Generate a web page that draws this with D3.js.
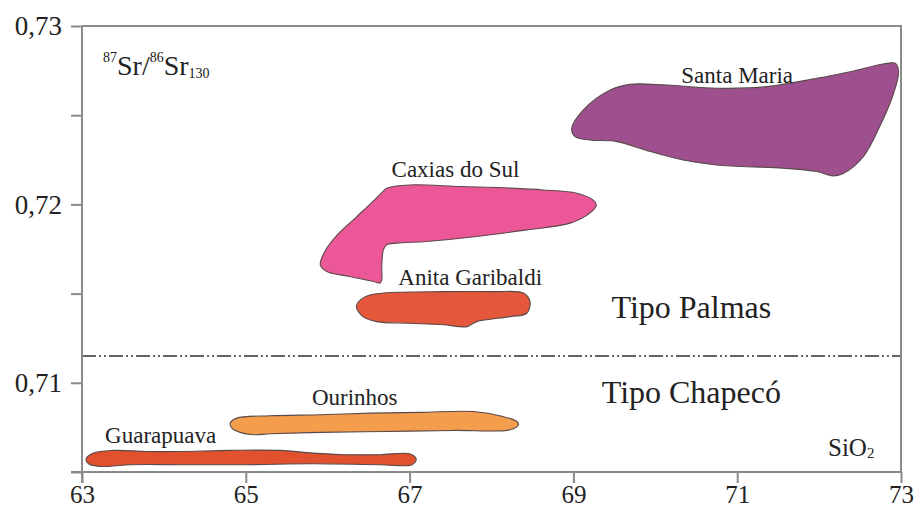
<!DOCTYPE html>
<html>
<head>
<meta charset="utf-8">
<script src="https://cdn.jsdelivr.net/npm/d3@7"></script>
<style>
  html, body { margin: 0; padding: 0; background: #fff; }
  svg { display: block; }
  text { font-family: "Liberation Serif", "Times New Roman", serif; fill: #222; }
</style>
</head>
<body>
<svg id="chart" width="919" height="508"></svg>
<script>
// SiO2 (wt%) vs 87Sr/86Sr(130) fields for the Palmas and Chapecó type volcanics
const xTicks = [63, 65, 67, 69, 71, 73];
const yTicks = [0.705, 0.71, 0.715, 0.72, 0.725, 0.73];
const yTickLabels = [0.71, 0.72, 0.73];
const divider = 0.7115;

// field outlines as [SiO2, 87Sr/86Sr] pairs
const guarapuava = [
  [63.05, 0.70573], [63.14, 0.70606], [63.38, 0.70621], [63.79, 0.70615], [64.20, 0.70615],
  [64.81, 0.70621], [65.42, 0.70621], [65.82, 0.70606], [66.23, 0.70597], [66.64, 0.70597],
  [67.00, 0.70602], [67.08, 0.70573], [67.03, 0.70541], [66.64, 0.70541], [65.82, 0.70546],
  [65.01, 0.70541], [64.20, 0.70541], [63.59, 0.70541], [63.22, 0.70531], [63.08, 0.70546]
];
const ourinhos = [
  [64.81, 0.70774], [64.89, 0.70802], [65.30, 0.70815], [65.91, 0.70821], [66.52, 0.70830],
  [67.13, 0.70834], [67.78, 0.70839], [68.14, 0.70811], [68.31, 0.70783], [68.33, 0.70765],
  [68.23, 0.70737], [67.53, 0.70733], [66.72, 0.70727], [65.91, 0.70722], [65.30, 0.70714],
  [65.09, 0.70709], [64.93, 0.70722], [64.83, 0.70746]
];
const anitaGaribaldi = [
  [66.35, 0.71431], [66.46, 0.71483], [66.68, 0.71503], [67.41, 0.71511], [68.02, 0.71511],
  [68.39, 0.71503], [68.47, 0.71455], [68.43, 0.71390], [68.23, 0.71371], [67.82, 0.71343],
  [67.70, 0.71315], [67.41, 0.71325], [67.00, 0.71334], [66.60, 0.71343], [66.43, 0.71371]
];
const caxiasDoSul = [
  [66.72, 0.72091], [67.00, 0.72109], [67.62, 0.72100], [68.23, 0.72091], [68.63, 0.72081],
  [69.04, 0.72063], [69.24, 0.72025], [69.28, 0.71997], [69.20, 0.71951], [68.96, 0.71895],
  [68.43, 0.71857], [67.82, 0.71820], [67.21, 0.71792], [66.84, 0.71783], [66.72, 0.71773],
  [66.68, 0.71745], [66.66, 0.71652], [66.66, 0.71577], [66.64, 0.71559], [66.56, 0.71568],
  [66.27, 0.71596], [65.99, 0.71624], [65.91, 0.71661], [65.97, 0.71740], [66.12, 0.71830],
  [66.34, 0.71925], [66.55, 0.72015], [66.68, 0.72074]
];
const santaMaria = [
  [68.98, 0.72427], [69.12, 0.72529], [69.45, 0.72641], [69.69, 0.72673], [70.14, 0.72669],
  [70.75, 0.72651], [71.36, 0.72660], [71.97, 0.72707], [72.38, 0.72744], [72.78, 0.72787],
  [72.93, 0.72791], [72.97, 0.72744], [72.91, 0.72623], [72.74, 0.72436], [72.54, 0.72268],
  [72.30, 0.72175], [72.17, 0.72160], [71.97, 0.72184], [71.56, 0.72203], [70.75, 0.72221],
  [70.34, 0.72249], [69.94, 0.72296], [69.53, 0.72352], [69.20, 0.72361], [69.02, 0.72380]
];

const fields = [
  { name: "Guarapuava",      pts: guarapuava,     fill: "#e2512d", label: [63.96, 0.70664] },
  { name: "Ourinhos",        pts: ourinhos,       fill: "#f49d4d", label: [66.33, 0.70877] },
  { name: "Anita Garibaldi", pts: anitaGaribaldi, fill: "#e5573a", label: [67.74, 0.71549] },
  { name: "Caxias do Sul",   pts: caxiasDoSul,    fill: "#eb5797", label: [67.56, 0.72156] },
  { name: "Santa Maria",     pts: santaMaria,     fill: "#9d4f8e", label: [71.00, 0.72681] }
];

const groups = [
  { name: "Tipo Palmas",  at: [70.44, 0.71364] },
  { name: "Tipo Chapecó", at: [70.44, 0.70888] }
];

const svg = d3.select("#chart");
const margin = { left: 82, right: 18, top: 26, bottom: 36 };
const W = 919, H = 508;

const x = d3.scaleLinear().domain([63, 73]).range([margin.left, W - margin.right]);
const y = d3.scaleLinear().domain([0.705, 0.73]).range([H - margin.bottom, margin.top]);

const locale = d3.formatLocale({ decimal: ",", thousands: ".", grouping: [3], currency: ["", ""] });
const fmt = locale.format(".2f");

const axisColor = "#8a8a8a";

// fields
const line = d3.line()
  .x(d => x(d[0]))
  .y(d => y(d[1]))
  .curve(d3.curveCatmullRomClosed.alpha(0.5));

svg.append("g").selectAll("path")
  .data(fields)
  .join("path")
  .attr("d", d => line(d.pts))
  .attr("fill", d => d.fill)
  .attr("stroke", "#5a4a4a")
  .attr("stroke-width", 1.1);

// divider between the two magma types
svg.append("line")
  .attr("x1", x(63)).attr("x2", x(73))
  .attr("y1", y(divider)).attr("y2", y(divider))
  .attr("stroke", "#333")
  .attr("stroke-width", 1.6)
  .attr("stroke-dasharray", "14,3,2,3,2,3");

// frame: top and right edges
svg.append("path")
  .attr("d", `M${x(63)},${y(0.73)}H${x(73)}V${y(0.705)}`)
  .attr("fill", "none")
  .attr("stroke", axisColor)
  .attr("stroke-width", 2);

// axes
const xAxis = svg.append("g")
  .attr("transform", `translate(0,${y(0.705)})`)
  .call(d3.axisBottom(x).tickValues(xTicks).tickSize(11).tickSizeOuter(0).tickPadding(2).tickFormat(d3.format("d")));
const yAxis = svg.append("g")
  .attr("transform", `translate(${x(63)},0)`)
  .call(d3.axisLeft(y).tickValues(yTicks).tickSize(11).tickSizeOuter(0).tickPadding(9)
    .tickFormat(d => yTickLabels.some(v => Math.abs(v - d) < 1e-9) ? fmt(d) : ""));

[xAxis, yAxis].forEach(g => {
  g.select(".domain").attr("stroke", axisColor).attr("stroke-width", 2);
  g.selectAll(".tick line").attr("stroke", axisColor).attr("stroke-width", 2);
  g.selectAll(".tick text")
    .attr("fill", "#222")
    .style("font-family", '"Liberation Serif", serif')
    .style("font-size", "27px");
});
xAxis.selectAll(".tick text").style("font-size", "25px").attr("dy", "0.7em");
// extend the axis lines past the origin like the tick marks
xAxis.select(".domain").attr("d", `M${x(63) - 11},0H${x(73)}`);
yAxis.select(".domain").attr("d", `M0,${y(0.73)}V${y(0.705) + 11}`);

// field labels
svg.append("g").selectAll("text")
  .data(fields)
  .join("text")
  .attr("x", d => x(d.label[0]))
  .attr("y", d => y(d.label[1]))
  .attr("text-anchor", "middle")
  .style("font-size", "23px")
  .text(d => d.name);

// magma type labels
svg.append("g").selectAll("text")
  .data(groups)
  .join("text")
  .attr("x", d => x(d.at[0]))
  .attr("y", d => y(d.at[1]))
  .attr("text-anchor", "middle")
  .style("font-size", "32px")
  .text(d => d.name);

// axis titles
const yt = svg.append("text").attr("x", 103).attr("y", 75);
yt.append("tspan").attr("font-size", 14).attr("dy", -13).text("87");
yt.append("tspan").attr("font-size", 28).attr("dy", 13).text("Sr/");
yt.append("tspan").attr("font-size", 14).attr("dy", -13).text("86");
yt.append("tspan").attr("font-size", 28).attr("dy", 13).text("Sr");
yt.append("tspan").attr("font-size", 14).attr("dy", 3).text("130");

const xt = svg.append("text").attr("x", 828).attr("y", 456);
xt.append("tspan").attr("font-size", 25).text("SiO");
xt.append("tspan").attr("font-size", 15).attr("dy", 2).text("2");
</script>
</body>
</html>
